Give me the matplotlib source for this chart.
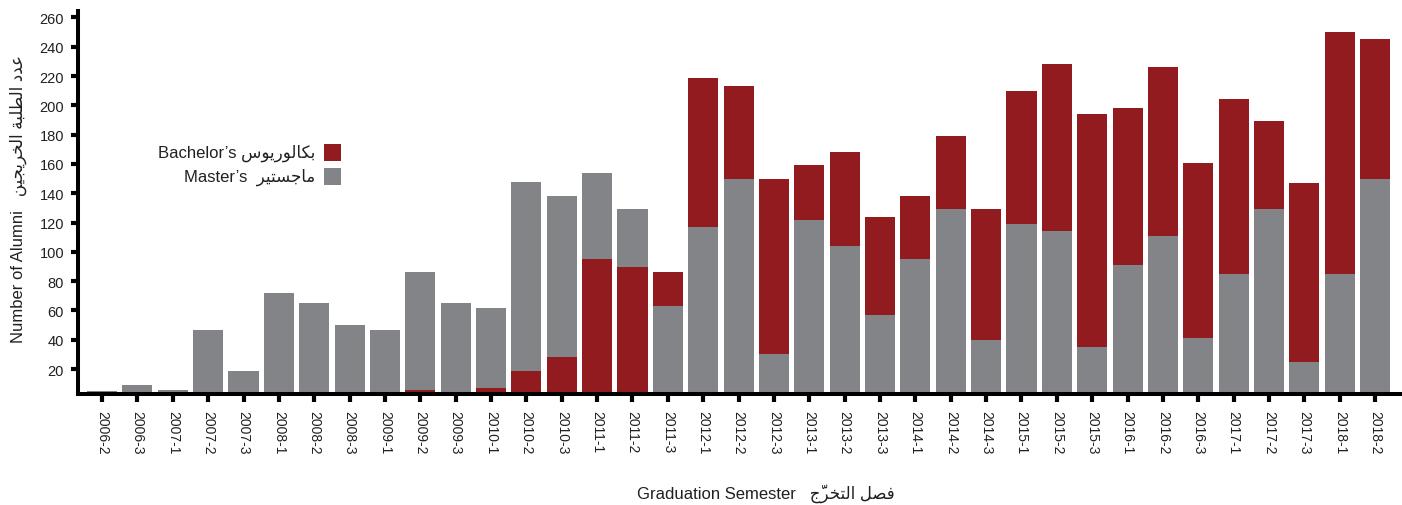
import matplotlib
matplotlib.use('Agg')
import matplotlib.pyplot as plt
from matplotlib.patches import Rectangle

plt.rcParams['font.family'] = ['Liberation Sans', 'DejaVu Sans']

semesters = ['2006-2', '2006-3', '2007-1', '2007-2', '2007-3', '2008-1', '2008-2', '2008-3',
             '2009-1', '2009-2', '2009-3', '2010-1', '2010-2', '2010-3', '2011-1', '2011-2',
             '2011-3', '2012-1', '2012-2', '2012-3', '2013-1', '2013-2', '2013-3', '2014-1',
             '2014-2', '2014-3', '2015-1', '2015-2', '2015-3', '2016-1', '2016-2', '2016-3',
             '2017-1', '2017-2', '2017-3', '2018-1', '2018-2']
bachelors = [0, 0, 0, 0, 0, 0, 0, 0, 0, 6, 4, 7, 19, 28, 95, 90, 86, 219, 213, 150,
             159, 168, 124, 138, 179, 129, 210, 228, 194, 198, 226, 161, 204, 189, 147, 250, 245]
masters = [5, 9, 6, 47, 19, 72, 65, 50, 47, 86, 65, 62, 148, 138, 154, 129, 63, 117, 150, 30,
           122, 104, 57, 95, 129, 40, 119, 114, 35, 91, 111, 41, 85, 129, 25, 85, 150]
yticks = list(range(20, 261, 20))

red = '#921b1f'
grey = '#838488'
ink = '#231f20'

# arabic in visual order (presentation forms), DejaVu has the glyphs
ar_bach = '\ufeb1\ufeee\ufef3\ufead\ufeee\ufedf\ufe8e\ufedc\ufe91'
ar_mast = '\ufeae\ufef4\ufe98\ufeb4\ufe9f\ufe8e\ufee3'
ar_ylab = ('\ufee6\ufef4\ufea0\ufef3\ufeae\ufea8\ufedf\ufe8d' + ' ' +
           '\ufe94\ufe92\ufee0\ufec4\ufedf\ufe8d' + ' ' +
           '\ufea9\ufeaa\ufecb')
ar_xlab = '\ufe9d\u0651\ufeae\ufea8\ufe98\ufedf\ufe8d' + ' ' + '\ufede\ufebc\ufed3'

W, H = 1402, 506
fig = plt.figure(figsize=(W / 100, H / 100), dpi=100)
ax = fig.add_axes([78 / W, (H - 395) / H, (W - 78) / W, 383 / H])

x = list(range(len(semesters)))
bb = ax.bar(x, bachelors, width=0.85, color=red, linewidth=0)
mb = ax.bar(x, masters, width=0.85, color=grey, linewidth=0)
# shorter bar sits in front
for b, m, vb, vm in zip(bb, mb, bachelors, masters):
    if vb < vm:
        b.set_zorder(3)
        m.set_zorder(2)
    else:
        b.set_zorder(2)
        m.set_zorder(3)

ax.set_xlim(-0.68, len(semesters) - 0.24)
ax.set_ylim(3, 264.4)
ax.set_xticks(x)
ax.set_xticklabels(semesters, rotation=-90, fontsize=10, color=ink)
ax.set_yticks(yticks)
ax.set_yticklabels([str(v) for v in yticks], fontsize=10.5, color=ink)
ax.tick_params(axis='x', length=5.5, width=3, pad=6, color='black')
ax.tick_params(axis='y', length=5, width=3, pad=5, color='black')

for s in ['top', 'right']:
    ax.spines[s].set_visible(False)
for s in ['left', 'bottom']:
    ax.spines[s].set_linewidth(2.9)
    ax.spines[s].set_zorder(5)

# axis titles
fig.text(766 / W, 1 - 494 / H, 'Graduation Semester   ' + ar_xlab, ha='center', va='center',
         fontsize=12, color=ink)
fig.text(18 / W, 1 - 199 / H, 'Number of Alumni   ' + ar_ylab, ha='center', va='center',
         rotation=90, fontsize=12, color=ink)

# legend
for i, (lab, col) in enumerate([('Bachelor\u2019s ' + ar_bach, red),
                                 ('Master\u2019s  ' + ar_mast, grey)]):
    yc = 153.5 + 24 * i
    fig.add_artist(Rectangle((324 / W, 1 - (yc + 8.5) / H), 17 / W, 17 / H,
                             transform=fig.transFigure, color=col, linewidth=0))
    fig.text(315 / W, 1 - yc / H, lab, ha='right', va='center', fontsize=12, color=ink)

fig.savefig('out.png', dpi=100)
